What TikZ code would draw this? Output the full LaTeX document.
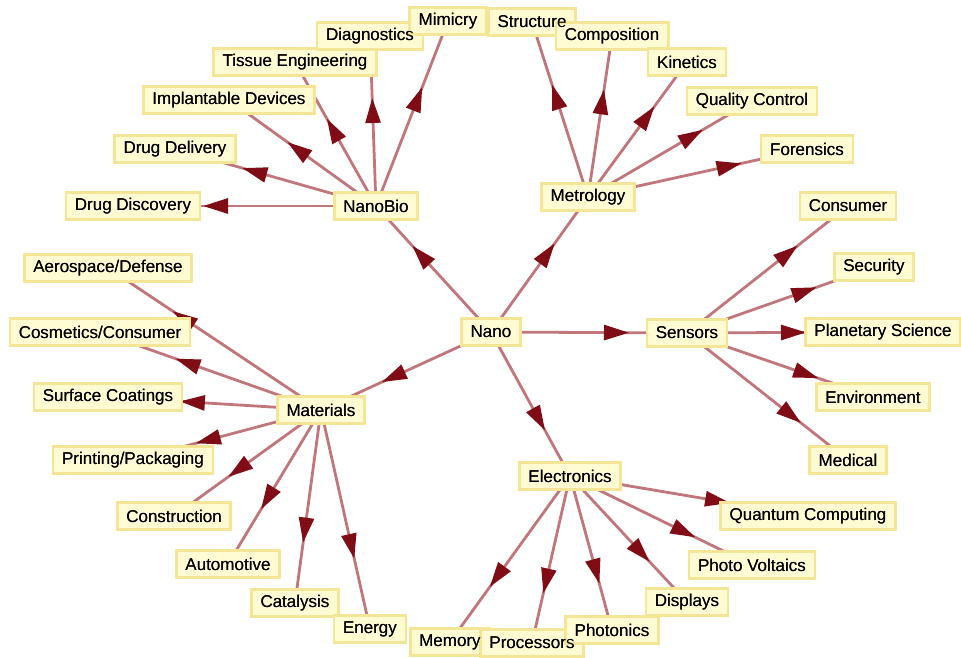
\documentclass[tikz,border=0pt]{standalone}
\usepackage{fontspec}
\setmainfont{Liberation Sans}
\usetikzlibrary{arrows.meta,decorations.markings}
\definecolor{edgec}{RGB}{192,118,122}
\definecolor{tipc}{RGB}{128,12,22}
\definecolor{boxfill}{RGB}{255,252,212}
\definecolor{boxline}{RGB}{244,230,150}
\pgfdeclarelayer{bg}
\pgfsetlayers{bg,main}
\begin{document}
\begin{tikzpicture}[x=1pt,y=-1pt,
  box/.style={draw=boxline,line width=2.5pt,fill=boxfill,inner xsep=9pt,inner ysep=3pt,minimum height=27pt,font=\fontsize{17}{20}\selectfont},
  boxtext/.style={inner xsep=9pt,inner ysep=3pt,minimum height=27pt,font=\fontsize{17}{20}\selectfont},
  edge/.style={draw=edgec,line width=2.8pt},
  tipat/.style={postaction={decorate,decoration={markings,mark=at position -#1pt with {\arrow[color=tipc]{Triangle[length=25pt,width=15pt]}}}}}]
\useasboundingbox (0,0) rectangle (961,658);
\def\nodelist{nano/491/332/{Nano},
  nanobio/376/206/{NanoBio},
  metrology/588/197/{Metrology},
  sensors/687/333/{Sensors},
  materials/321/410/{Materials},
  electronics/570/476/{Electronics},
  drugdisc/133/206/{Drug Discovery},
  drugdel/175/149/{Drug Delivery},
  implant/229/100/{Implantable Devices},
  tissue/295/62/{Tissue Engineering},
  diag/370/36/{Diagnostics},
  mimicry/448/21/{Mimicry},
  structure/532/22/{Structure},
  composition/612/36/{Composition},
  kinetics/687/62/{Kinetics},
  quality/752/101/{Quality Control},
  forensics/807/149/{Forensics},
  consumer/848/206/{Consumer},
  security/874/267/{Security},
  planetary/883/332/{Planetary Science},
  environment/873/397/{Environment},
  medical/848/460/{Medical},
  aerospace/108/268/{Aerospace/Defense},
  cosmetics/100/332/{Cosmetics/Consumer},
  surface/108/397/{Surface Coatings},
  printing/133/460/{Printing/Packaging},
  construction/174/516/{Construction},
  automotive/228/564/{Automotive},
  catalysis/295/603/{Catalysis},
  energy/370/629/{Energy},
  quantum/808/516/{Quantum Computing},
  pv/752/565/{Photo Voltaics},
  displays/687/602/{Displays},
  memory/450/642/{Memory},
  processors/532/643/{Processors},
  photonics/612/630/{Photonics}}
\foreach \n/\x/\y/\t in \nodelist { \node[box] (\n) at (\x,\y) {\t}; }
\foreach \n/\x/\y/\t in \nodelist { \node[boxtext] at (\x,\y) {\t}; }
\begin{pgfonlayer}{bg}
\foreach \s/\d/\a in {nano/nanobio/54, nano/metrology/57, nano/sensors/58, nano/materials/67, nano/electronics/52,
  nanobio/drugdisc/70, nanobio/drugdel/70, nanobio/implant/72, nanobio/tissue/65, nanobio/diag/62, nanobio/mimicry/71,
  metrology/structure/66, metrology/composition/54, metrology/kinetics/55, metrology/quality/57, metrology/forensics/67,
  sensors/consumer/64, sensors/security/61, sensors/planetary/77, sensors/environment/58, sensors/medical/60,
  materials/aerospace/78, materials/cosmetics/80, materials/surface/72, materials/printing/65, materials/construction/67,
  materials/automotive/64, materials/catalysis/61, materials/energy/72,
  electronics/memory/68, electronics/processors/51, electronics/photonics/48, electronics/displays/55,
  electronics/pv/63, electronics/quantum/79}
  { \draw[edge,tipat=\a] (\s.center) -- (\d.center); }
\end{pgfonlayer}
\end{tikzpicture}
\end{document}
